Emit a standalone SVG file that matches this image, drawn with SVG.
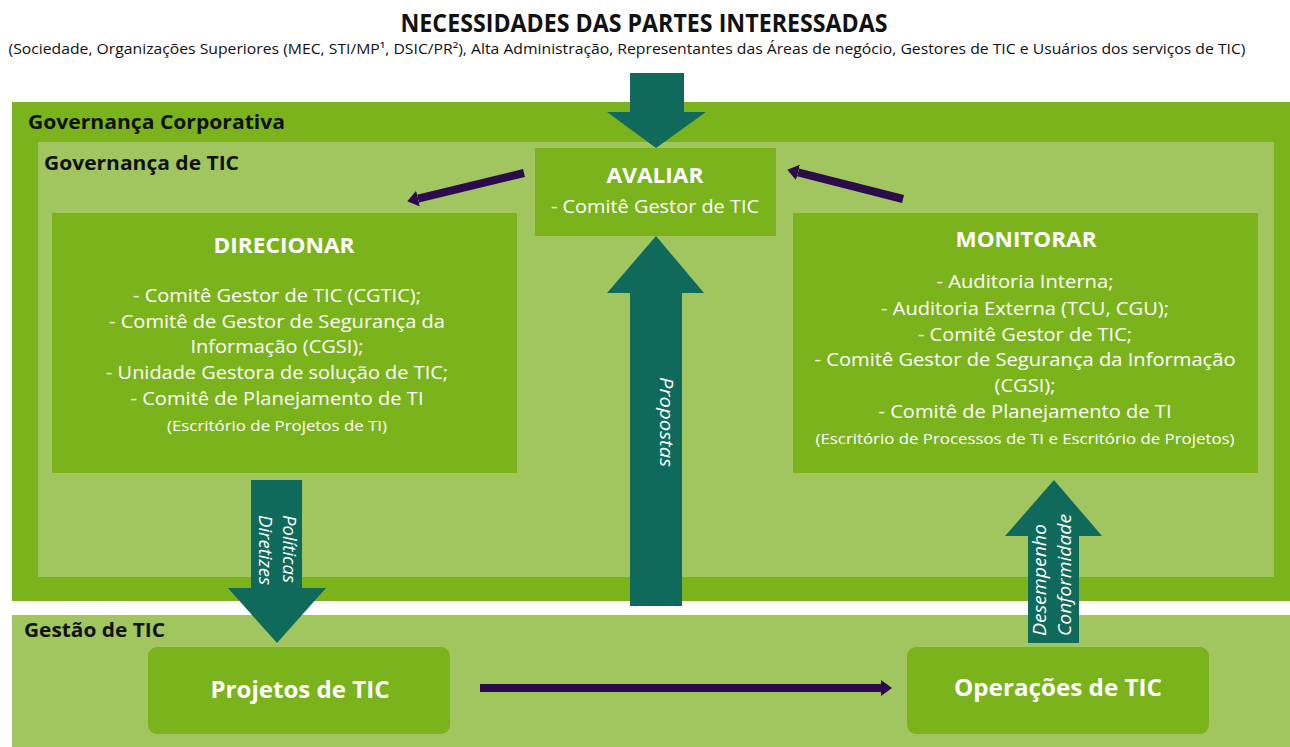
<svg xmlns="http://www.w3.org/2000/svg" width="1290" height="747" viewBox="0 0 1290 747">
<defs>
<style>
text{font-family:"Open Sans","Noto Sans","DejaVu Sans",sans-serif}
.dark{fill:#7ab31c}
.light{fill:#a1c660}
.box{fill:#7ab31c}
.teal{fill:#0f6a5b}
.h{font-weight:700;font-size:25px;fill:#111}
.sub{font-size:14px;fill:#111}
.lbl{font-weight:700;font-size:20px;fill:#111}
.bt{font-weight:700;font-size:22px;fill:#fff}
.bl{font-size:19px;fill:#fff}
.bs{font-size:15px;fill:#fff}
.bb{font-weight:700;font-size:24px;fill:#fff}
.rot{font-style:italic;font-size:17.5px;fill:#fff}
.conn{stroke:#2c0b4d;stroke-width:8;fill:none}
</style>
<marker id="ah" markerUnits="userSpaceOnUse" markerWidth="11" markerHeight="16" viewBox="0 0 11 16" refX="0" refY="8" orient="auto">
<path d="M0,0 L11,8 L0,16 z" fill="#2c0b4d"/>
</marker>
</defs>
<rect width="1290" height="747" fill="#fff"/>
<g id="header">
<text class="h" x="644" y="32" text-anchor="middle" textLength="487" lengthAdjust="spacingAndGlyphs">NECESSIDADES DAS PARTES INTERESSADAS</text>
<text class="sub" x="627" y="54" text-anchor="middle" textLength="1237" lengthAdjust="spacingAndGlyphs">(Sociedade, Organizações Superiores (MEC, STI/MP¹, DSIC/PR²), Alta Administração, Representantes das Áreas de negócio, Gestores de TIC e Usuários dos serviços de TIC)</text>
</g>
<g id="governanca-corporativa">
<rect class="dark" x="12" y="102" width="1278" height="499"/>
<text class="lbl" x="28" y="129" textLength="257" lengthAdjust="spacingAndGlyphs">Governança Corporativa</text>
</g>
<g id="governanca-tic">
<rect class="light" x="38" y="142" width="1236" height="435"/>
<text class="lbl" x="44" y="170" textLength="195" lengthAdjust="spacingAndGlyphs">Governança de TIC</text>
</g>
<g id="gestao-tic">
<rect class="light" x="12" y="615" width="1278" height="132"/>
<text class="lbl" x="24" y="637" textLength="141" lengthAdjust="spacingAndGlyphs">Gestão de TIC</text>
</g>
<g id="arrow-necessidades">
<polygon class="teal" points="630,73 684,73 684,112 706,112 656,148 607,112 630,112"/>
</g>
<g id="avaliar">
<rect class="box" x="535" y="148" width="241" height="88"/>
<text class="bt" x="655" y="183" text-anchor="middle" textLength="97" lengthAdjust="spacingAndGlyphs">AVALIAR</text>
<text class="bl" x="655" y="213" text-anchor="middle" textLength="208" lengthAdjust="spacingAndGlyphs">- Comitê Gestor de TIC</text>
</g>
<g id="direcionar">
<rect class="box" x="52" y="213" width="465" height="260"/>
<text class="bt" x="284" y="253" text-anchor="middle" textLength="141" lengthAdjust="spacingAndGlyphs">DIRECIONAR</text>
<text class="bl" x="277" y="302" text-anchor="middle" textLength="288" lengthAdjust="spacingAndGlyphs">- Comitê Gestor de TIC (CGTIC);</text>
<text class="bl" x="277" y="328" text-anchor="middle" textLength="336" lengthAdjust="spacingAndGlyphs">- Comitê de Gestor de Segurança da</text>
<text class="bl" x="277" y="353" text-anchor="middle" textLength="173" lengthAdjust="spacingAndGlyphs">Informação (CGSI);</text>
<text class="bl" x="277" y="379" text-anchor="middle" textLength="342" lengthAdjust="spacingAndGlyphs">- Unidade Gestora de solução de TIC;</text>
<text class="bl" x="277" y="405" text-anchor="middle" textLength="293" lengthAdjust="spacingAndGlyphs">- Comitê de Planejamento de TI</text>
<text class="bs" x="277" y="431" text-anchor="middle" textLength="220" lengthAdjust="spacingAndGlyphs">(Escritório de Projetos de TI)</text>
</g>
<g id="monitorar">
<rect class="box" x="793" y="213" width="465" height="260"/>
<text class="bt" x="1026" y="247" text-anchor="middle" textLength="141" lengthAdjust="spacingAndGlyphs">MONITORAR</text>
<text class="bl" x="1025" y="288" text-anchor="middle" textLength="177" lengthAdjust="spacingAndGlyphs">- Auditoria Interna;</text>
<text class="bl" x="1025" y="315" text-anchor="middle" textLength="288" lengthAdjust="spacingAndGlyphs">- Auditoria Externa (TCU, CGU);</text>
<text class="bl" x="1025" y="341" text-anchor="middle" textLength="214" lengthAdjust="spacingAndGlyphs">- Comitê Gestor de TIC;</text>
<text class="bl" x="1025" y="366" text-anchor="middle" textLength="421" lengthAdjust="spacingAndGlyphs">- Comitê Gestor de Segurança da Informação</text>
<text class="bl" x="1025" y="392" text-anchor="middle" textLength="61" lengthAdjust="spacingAndGlyphs">(CGSI);</text>
<text class="bl" x="1025" y="418" text-anchor="middle" textLength="293" lengthAdjust="spacingAndGlyphs">- Comitê de Planejamento de TI</text>
<text class="bs" x="1025" y="444" text-anchor="middle" textLength="419" lengthAdjust="spacingAndGlyphs">(Escritório de Processos de TI e Escritório de Projetos)</text>
</g>
<g id="arrow-propostas">
<polygon class="teal" points="630,606 682,606 682,293 704,293 656,236 607,293 630,293"/>
<text class="rot" transform="translate(656,377) rotate(90)" x="0" y="-4" textLength="90" lengthAdjust="spacingAndGlyphs" style="font-size:18.5px">Propostas</text>
</g>
<g id="arrow-politicas">
<polygon class="teal" points="251,480 302,480 302,588 326,588 277,643 228,588 251,588"/>
<text class="rot" transform="translate(277,515) rotate(90)"><tspan x="0" y="-6" textLength="68" lengthAdjust="spacingAndGlyphs">Políticas</tspan><tspan x="0" y="18" textLength="70" lengthAdjust="spacingAndGlyphs">Diretizes</tspan></text>
</g>
<g id="arrow-desempenho">
<polygon class="teal" points="1028,643 1079,643 1079,536 1102,536 1054,480 1005,536 1028,536"/>
<text class="rot" transform="translate(1054,636) rotate(-90)"><tspan x="0" y="-8" textLength="112" lengthAdjust="spacingAndGlyphs">Desempenho</tspan><tspan x="0" y="17" textLength="122" lengthAdjust="spacingAndGlyphs">Conformidade</tspan></text>
</g>
<g id="projetos">
<rect class="box" x="148" y="647" width="302" height="87" rx="9"/>
<text class="bb" x="300" y="698" text-anchor="middle" textLength="179" lengthAdjust="spacingAndGlyphs">Projetos de TIC</text>
</g>
<g id="operacoes">
<rect class="box" x="907" y="647" width="302" height="87" rx="9"/>
<text class="bb" x="1058" y="696" text-anchor="middle" textLength="208" lengthAdjust="spacingAndGlyphs">Operações de TIC</text>
</g>
<g id="connectors">
<line class="conn" x1="524" y1="173" x2="418" y2="198.6" marker-end="url(#ah)"/>
<line class="conn" x1="903" y1="199" x2="798" y2="172.4" marker-end="url(#ah)"/>
<line class="conn" x1="480" y1="688" x2="881" y2="688" marker-end="url(#ah)"/>
</g>
</svg>
